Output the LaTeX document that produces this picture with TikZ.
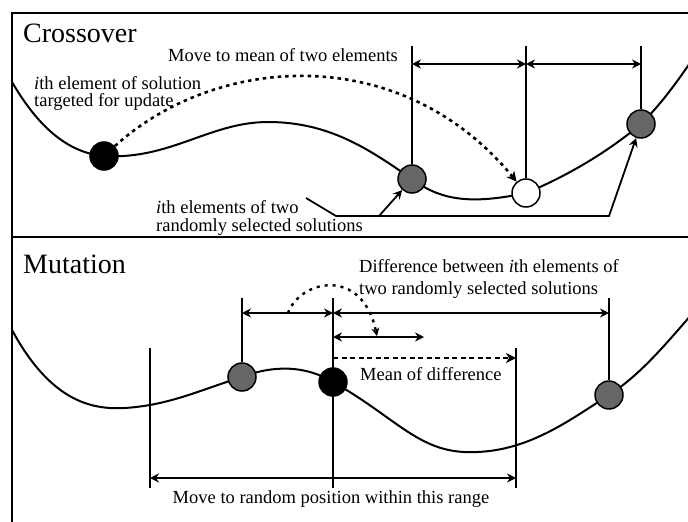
\documentclass[tikz,border=0pt]{standalone}
\usepackage{fontspec}
\setmainfont{Liberation Serif}
\usetikzlibrary{arrows.meta}
\definecolor{dotgray}{HTML}{666666}
\tikzset{
  frame/.style={line width=2.5pt},
  curve/.style={line width=2pt},
  guide/.style={line width=2pt},
  tip/.tip={Stealth[length=9pt,width=9pt,inset=3pt]},
  dim/.style={line width=1.8pt,tip-tip},
  conn/.style={line width=1.8pt},
  dotline/.style={line width=2.6pt,dash pattern=on 3.5pt off 4pt,-{Stealth[length=10pt,width=10pt,inset=3pt]}},
  dashline/.style={line width=2.6pt,dash pattern=on 5pt off 3.5pt,-{Stealth[length=10pt,width=10pt,inset=3pt]}},
  dot/.style={circle,draw=black,line width=1.5pt,minimum size=28pt,inner sep=0pt},
  graydot/.style={dot,fill=dotgray},
  blackdot/.style={dot,fill=black},
  whitedot/.style={dot,fill=white},
  title/.style={font=\fontsize{28}{32}\selectfont,inner sep=0pt,anchor=base west},
  lbl/.style={font=\fontsize{18.5}{21}\selectfont,inner sep=0pt,anchor=base west,align=left},
}
\begin{document}
\begin{tikzpicture}[x=1pt,y=-1pt]
\useasboundingbox (0,0) rectangle (688,522);
\fill[white] (0,0) rectangle (688,522);

% frame
\draw[frame] (12,524) -- (12,13) -- (690,13);
\draw[frame] (12,237) -- (690,237);

% ---------------- Crossover ----------------
\node[title] (tcross) at (23,42) {Crossover};

\draw[curve] (12,82) .. controls (40,130) and (70,153) .. (104,156)
  .. controls (170,160) and (210,122) .. (268,122)
  .. controls (330,122) and (370,150) .. (412,179)
  .. controls (440,200) and (470,205) .. (526,193)
  .. controls (570,175) and (610,150) .. (641,124)
  .. controls (660,105) and (675,85) .. (692,60);

\coordinate (ta) at (412,46);
\coordinate (tb) at (526,46);
\coordinate (tc) at (641,46);
\coordinate (ma) at (412,64);
\coordinate (mb) at (526,64);
\coordinate (mc) at (641,64);

\node[blackdot] (bk) at (104,156) {};
\node[graydot] (g1) at (412,179) {};
\node[whitedot] (wd) at (526,193) {};
\node[graydot] (g2) at (641,124) {};

\draw[guide] (ta) -- (g1.north);
\draw[guide] (tb) -- (wd.north);
\draw[guide] (tc) -- (g2.north);
\draw[dim] (ma) -- (mb);
\draw[dim] (mb) -- (mc);

\draw[dotline] (bk) .. controls (215,55) and (400,40) .. (wd);

\node[lbl] (lmove) at (168,61) {Move to mean of two elements};
\node[lbl,font=\fontsize{18.5}{17}\selectfont] (ltarget) at (34,106) {\textit{i}th element of solution\\targeted for update};
\node[lbl,font=\fontsize{18.5}{18}\selectfont] (ltwo) at (156,231) {\textit{i}th elements of two\\randomly selected solutions};

\coordinate (c0) at (306,198);
\coordinate (c1) at (336,216);
\coordinate (c2) at (609,216);
\coordinate (c3) at (379,216);
\draw[conn,-tip] (c0) -- (c1) -- (c2) -- (g2);
\draw[conn,-tip] (c3) -- (g1);

% ---------------- Mutation ----------------
\node[title] (tmut) at (23,273) {Mutation};

\draw[curve] (12,330) .. controls (50,400) and (90,410) .. (125,408)
  .. controls (170,405) and (200,390) .. (242,377)
  .. controls (265,368) and (300,362) .. (333,382)
  .. controls (400,420) and (420,455) .. (477,452)
  .. controls (530,450) and (570,420) .. (609,395)
  .. controls (640,375) and (665,345) .. (692,314);

\coordinate (va) at (150,348);
\coordinate (vab) at (150,488);
\coordinate (vb) at (242,298);
\coordinate (vc) at (333,298);
\coordinate (vcb) at (333,488);
\coordinate (vd) at (516,348);
\coordinate (vdb) at (516,488);
\coordinate (ve) at (609,298);

\draw[guide] (va) -- (vab);
\draw[guide] (vc) -- (vcb);
\draw[guide] (vd) -- (vdb);

\node[graydot] (m1) at (242,377) {};
\node[blackdot] (m2) at (333,382) {};
\node[graydot] (m3) at (609,395) {};

\draw[guide] (vb) -- (m1.north);
\draw[guide] (ve) -- (m3.north);

\coordinate (a1) at (242,313);
\coordinate (a2) at (333,313);
\coordinate (a3) at (609,313);
\coordinate (b1) at (333,337);
\coordinate (b2) at (424,337);
\coordinate (d1) at (333,358);
\coordinate (d2) at (516,358);
\coordinate (r1) at (150,478);
\coordinate (r2) at (516,478);
\coordinate (s1) at (288,313);
\coordinate (s2) at (377,336);

\draw[dim] (a1) -- (a2);
\draw[dim] (a2) -- (a3);
\draw[dim] (b1) -- (b2);
\draw[dashline] (d1) -- (d2);
\draw[dim] (r1) -- (r2);

\draw[line width=2.4pt,dash pattern=on 3pt off 5pt,-{Stealth[length=8pt,width=8pt,inset=2.5pt]}] (s1) .. controls (300,280) and (362,266) .. (s2);

\node[lbl,font=\fontsize{18.5}{21.5}\selectfont] (ldiff) at (359,294) {Difference between \textit{i}th elements of\\two randomly selected solutions};
\node[lbl] (lmean) at (360,380) {Mean of difference};
\node[lbl,anchor=base] (lrange) at (331,503) {Move to random position within this range};
\end{tikzpicture}
\end{document}
